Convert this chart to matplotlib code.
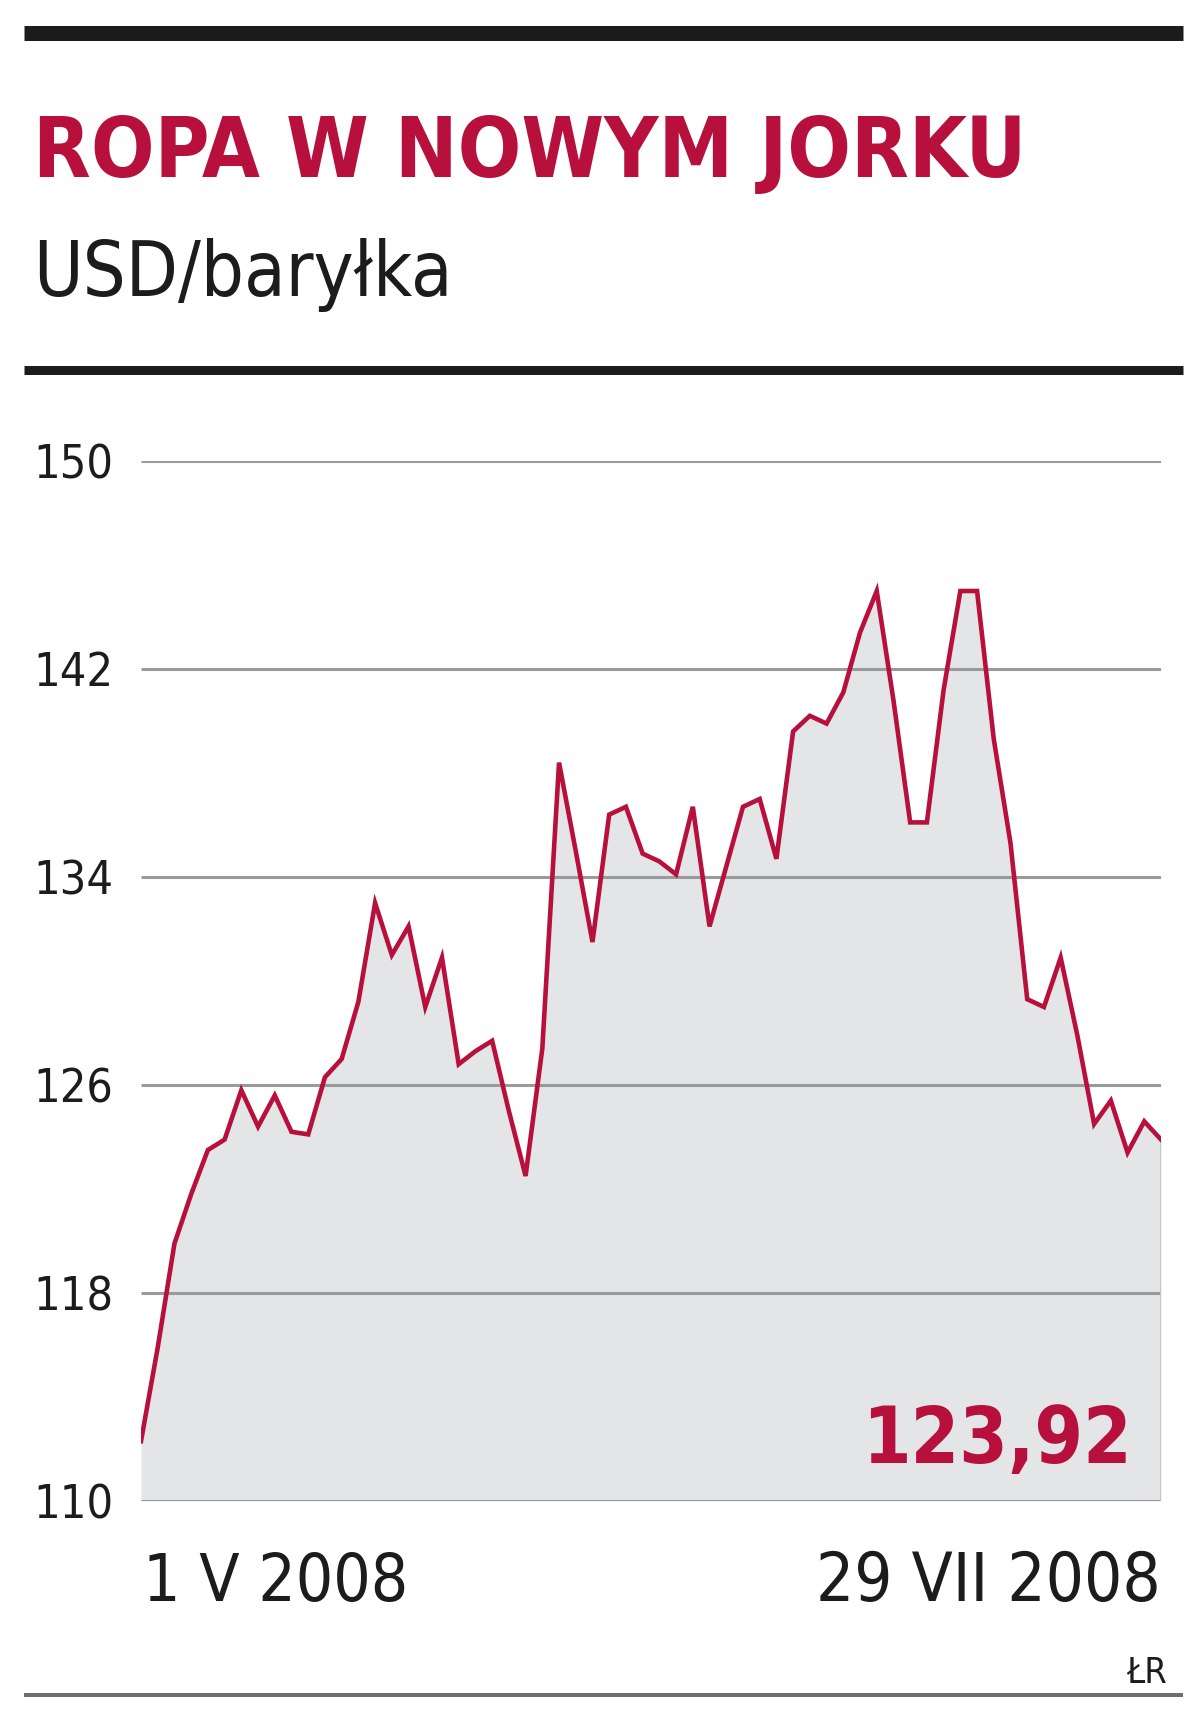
import matplotlib
matplotlib.use("Agg")
import matplotlib.pyplot as plt
from matplotlib.lines import Line2D
from matplotlib import font_manager as fm
import numpy as np

# Ropa WTI, NYMEX, 1 V - 29 VII 2008 (USD/baryłka), sesje kolejno
prices = [112.3, 115.9, 119.9, 121.8, 123.5, 123.9, 125.8, 124.4, 125.6, 124.2,
          124.1, 126.3, 127.0, 129.2, 133.0, 131.0, 132.1, 129.0, 130.9, 126.8,
          127.3, 127.7, 125.0, 122.5, 127.4, 138.4, 135.0, 131.5, 136.4, 136.7,
          134.9, 134.6, 134.1, 136.7, 132.1, 134.4, 136.7, 137.0, 134.7, 139.6,
          140.2, 139.9, 141.1, 143.4, 145.0, 140.8, 136.1, 136.1, 141.2, 145.0,
          145.0, 139.3, 135.3, 129.3, 129.0, 130.9, 127.9, 124.5, 125.4, 123.4,
          124.6, 123.9]
y_ticks = [110, 118, 126, 134, 142, 150]
date_labels = ["1 V 2008", "29 VII 2008"]
last_value = "123,92"

title = "ROPA W NOWYM JORKU"
subtitle = "USD/baryłka"
source = "ŁR"

RED = "#b7103d"
FILL = "#e4e5e7"
GRID = "#9a9a9a"
DARK = "#1c1c1c"

W, H = 1200, 1732


def find_narrow(bold):
    # look for any condensed / narrow sans face installed
    found = []
    for f in fm.fontManager.ttflist:
        name = (f.fname + " " + f.name).lower()
        if "mono" in name or "serif" in name:
            continue
        narrow = ("condensed" in name or "narrow" in name
                  or str(f.stretch).lower() in ("condensed", "semi-condensed", "extra-condensed"))
        if not narrow or f.style != "normal":
            continue
        w = f.weight if isinstance(f.weight, int) else (700 if "bold" in str(f.weight) else 400)
        if bold and w >= 600:
            found.append(f)
        if not bold and 350 <= w < 600:
            found.append(f)
    if found:
        return fm.FontProperties(fname=found[0].fname)
    return fm.FontProperties(family="DejaVu Sans", weight="bold" if bold else "normal")


REG = find_narrow(False)
BOLD = find_narrow(True)


def fx(px):
    return px / W


def fy(py):
    return 1 - py / H


fig = plt.figure(figsize=(W / 100, H / 100), dpi=100)
fig.patch.set_facecolor("white")
renderer = fig.canvas.get_renderer()


def fit(t, width_px, size_max):
    # shrink/grow the text so it spans the wanted width, capped by height size
    t.set_fontsize(size_max)
    w = t.get_window_extent(renderer).width
    t.set_fontsize(min(size_max, size_max * width_px / w))
    return t.get_fontsize()


# horizontal rules
fig.add_artist(Line2D([fx(24), fx(1183)], [fy(33), fy(33)], color=DARK, lw=15 * 0.72, solid_capstyle="butt"))
fig.add_artist(Line2D([fx(24), fx(1183)], [fy(370), fy(370)], color=DARK, lw=9 * 0.72, solid_capstyle="butt"))
fig.add_artist(Line2D([fx(24), fx(1183)], [fy(1695), fy(1695)], color="#6e6e6e", lw=4 * 0.72, solid_capstyle="butt"))

t = fig.text(fx(33), fy(177), title, color=RED, fontproperties=BOLD, ha="left", va="baseline")
fit(t, 992, 74)
t = fig.text(fx(33), fy(296), subtitle, color=DARK, fontproperties=REG, ha="left", va="baseline")
fit(t, 420, 60)

# chart area
left, right = 141, 1161
top, bottom = 461, 1501
ax = fig.add_axes([fx(left), fy(bottom), (right - left) / W, (bottom - top) / H])
x = np.arange(len(prices))
ax.fill_between(x, prices, y_ticks[0], color=FILL, lw=0, zorder=1)
ax.hlines(y_ticks, 0, x[-1], color=GRID, lw=2.2, zorder=2)
ax.vlines(x[-1], y_ticks[0], prices[-1], color="#c4c5c7", lw=2, zorder=2)
ax.plot(x, prices, color=RED, lw=3.3, zorder=3, solid_joinstyle="miter")

ax.set_xlim(0, x[-1])
ax.set_ylim(y_ticks[0], y_ticks[-1])
ax.set_xticks([])
for s in ax.spines.values():
    s.set_visible(False)
ax.patch.set_alpha(0)

probe = fig.text(0, 0, "150", fontproperties=REG)
tick_size = fit(probe, 80, 42)
probe.remove()
ax.set_yticks(y_ticks)
ax.set_yticklabels([str(v) for v in y_ticks], fontproperties=REG, color=DARK)
for lab in ax.get_yticklabels():
    lab.set_fontsize(tick_size)
    lab.set_horizontalalignment("left")
ax.tick_params(axis="y", length=0, pad=(left - 33) * 0.72)

t = fig.text(fx(1132), fy(1463), last_value, color=RED, fontproperties=BOLD, ha="right", va="baseline")
fit(t, 270, 74)

t = fig.text(fx(143), fy(1601), date_labels[0], color=DARK, fontproperties=REG, ha="left", va="baseline")
fit(t, 265, 55)
t = fig.text(fx(1161), fy(1601), date_labels[1], color=DARK, fontproperties=REG, ha="right", va="baseline")
fit(t, 344, 55)
t = fig.text(fx(1167), fy(1683), source, color=DARK, fontproperties=REG, ha="right", va="baseline")
fit(t, 41, 26)

fig.savefig("out.png", dpi=100, facecolor="white")
